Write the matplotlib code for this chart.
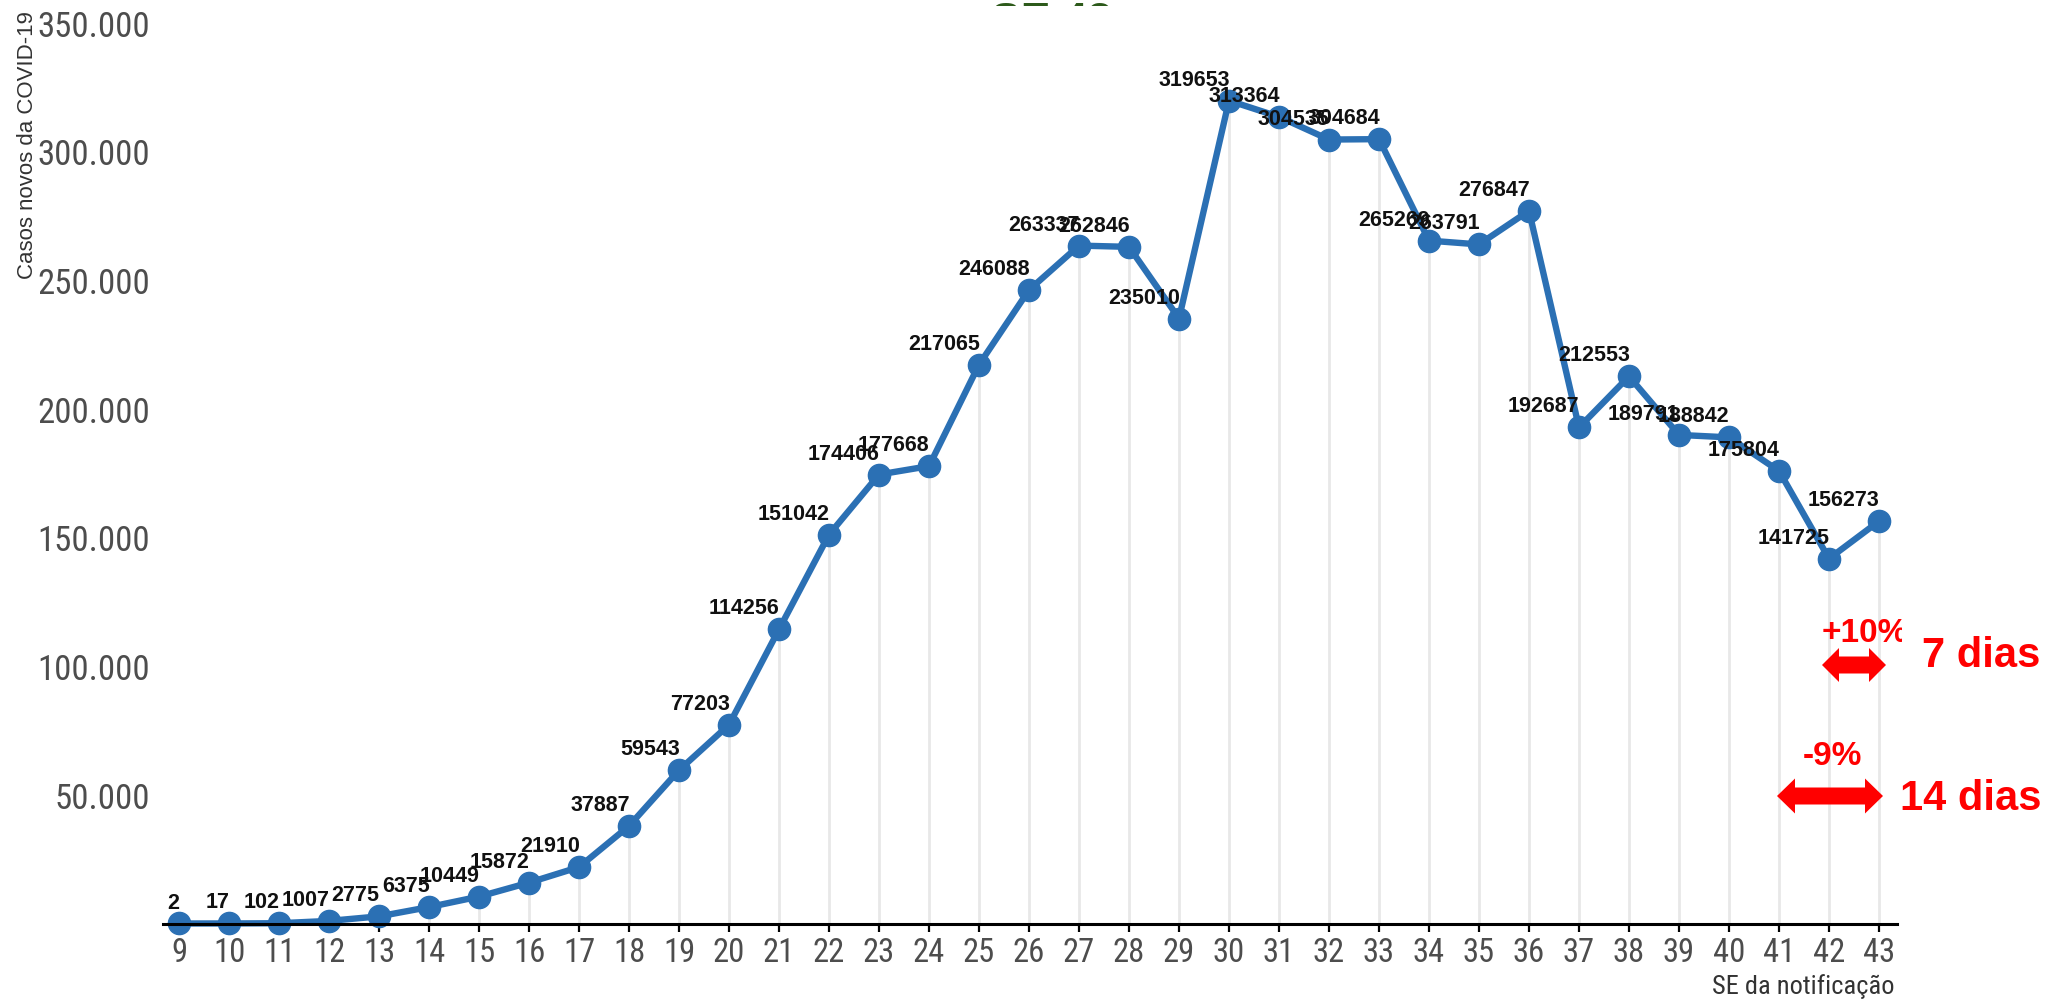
import matplotlib
matplotlib.use('Agg')
import matplotlib.pyplot as plt
from matplotlib import font_manager as fm
from matplotlib.patches import Polygon
from matplotlib.transforms import Bbox, TransformedBbox

W, H = 2058, 1003

# ---------------- data ----------------
weeks = list(range(9, 44))
cases = [2, 17, 102, 1007, 2775, 6375, 10449, 15872, 21910, 37887,
         59543, 77203, 114256, 151042, 174406, 177668, 217065, 246088,
         263337, 262846, 235010, 319653, 313364, 304535, 304684, 265269,
         263791, 276847, 192687, 212553, 189791, 188842, 175804, 141725,
         156273]
y_ticks = [50000, 100000, 150000, 200000, 250000, 300000, 350000]
y_tick_labels = ['50.000', '100.000', '150.000', '200.000', '250.000',
                 '300.000', '350.000']
x_tick_labels = [str(w) for w in weeks]
title_text = 'SE 43'
y_label = 'Casos novos da COVID-19'
x_label = 'SE da notificação'
ann_7_pct, ann_7_txt = '+10%', '7 dias'
ann_14_pct, ann_14_txt = '-9%', '14 dias'

available = {f.name for f in fm.fontManager.ttflist}
base = 'Liberation Sans' if 'Liberation Sans' in available else 'DejaVu Sans'


def find_narrow():
    cond = ('condensed', 'semi-condensed', 'extra-condensed', 'ultra-condensed')
    prefs = ['Liberation Sans Narrow', 'Arial Narrow', 'Roboto Condensed',
             'Open Sans Condensed', 'Noto Sans', 'Noto Sans Display', 'DejaVu Sans']
    entries = fm.fontManager.ttflist
    for p in prefs:
        for e in entries:
            nm = e.name
            is_cond = (str(e.stretch) in cond or 'Narrow' in nm or 'Condensed' in nm
                       or 'Condensed' in e.fname or 'Narrow' in e.fname)
            if (nm == p or nm.startswith(p)) and is_cond and e.style == 'normal' \
                    and str(e.weight) in ('400', 'normal', 'regular'):
                return e.fname
    return None


narrow_file = find_narrow()


def nfp(size):
    if narrow_file:
        return fm.FontProperties(fname=narrow_file, size=size)
    return fm.FontProperties(family=base, size=size * 0.93)


def fx(px):
    return px / W


def fy(py):
    return 1 - py / H


fig = plt.figure(figsize=(W / 100, H / 100), dpi=100)
fig.patch.set_facecolor('white')

# partially hidden title (behind the chart area)
fig.text(fx(1052), fy(2), title_text, ha='center', va='top', fontsize=32,
         fontweight='bold', color='#2d5a1b', family=base, zorder=-5)

ax = fig.add_axes([fx(163), fy(924.5), fx(1897) - fx(163), fy(7) - fy(924.5)])
ax.set_facecolor('white')
ax.set_xlim(8.68, 43.36)
ax.set_ylim(0, 356410)

ax.vlines(weeks, 0, cases, colors='#e8e8e8', lw=2, zorder=1)
ax.plot(weeks, cases, color='#2b70b4', lw=4.6, marker='o', ms=16,
        zorder=3, clip_on=False)

for w, c in zip(weeks, cases):
    ax.annotate(f'{c}', (w, c), xytext=(0.5, 11.5), textcoords='offset points',
                ha='right', va='baseline', fontsize=15.5, fontweight='bold',
                family=base, color='#111111', zorder=4, annotation_clip=False)

for s in ['top', 'right', 'left']:
    ax.spines[s].set_visible(False)
ax.spines['bottom'].set_color('black')
ax.spines['bottom'].set_linewidth(2.2)
ax.spines['bottom'].set_zorder(5)

ax.set_xticks(weeks)
ax.set_xticklabels(x_tick_labels, fontproperties=nfp(23.5), color='#4d4d4d')
ax.set_yticks(y_ticks)
ax.set_yticklabels(y_tick_labels, fontproperties=nfp(25), color='#4d4d4d')
ax.tick_params(axis='x', length=5.8, width=1.6, color='black', pad=3)
ax.tick_params(axis='y', length=0, pad=9.5)

fig.text(fx(28), fy(145), y_label, rotation=90, ha='center', va='center',
         fontsize=16, family=base, color='#333333')
fig.text(fx(1895), fy(987), x_label, ha='right', va='center',
         fontproperties=nfp(19), color='#333333')


def dbl_arrow(x0, x1, yc, total_h, shaft_h, head_l):
    pts = [(x0, yc), (x0 + head_l, yc - total_h / 2), (x0 + head_l, yc - shaft_h / 2),
           (x1 - head_l, yc - shaft_h / 2), (x1 - head_l, yc - total_h / 2), (x1, yc),
           (x1 - head_l, yc + total_h / 2), (x1 - head_l, yc + shaft_h / 2),
           (x0 + head_l, yc + shaft_h / 2), (x0 + head_l, yc + total_h / 2)]
    pts = [(fx(x), fy(y)) for x, y in pts]
    fig.patches.append(Polygon(pts, closed=True, transform=fig.transFigure,
                               facecolor='#ff0000', edgecolor='none', zorder=6))


red = '#ff0000'
t = fig.text(fx(1822), fy(642), ann_7_pct, ha='left', va='baseline', fontsize=24,
             fontweight='bold', color=red, family=base, zorder=6)
t.set_clip_box(TransformedBbox(Bbox([[0, 0], [fx(1902), 1]]), fig.transFigure))
t.set_clip_on(True)
dbl_arrow(1822, 1886, 666, 34, 17, 17)
fig.text(fx(1922), fy(667), ann_7_txt, ha='left', va='baseline', fontsize=30,
         fontweight='bold', color=red, family=base, zorder=6)

fig.text(fx(1803), fy(765), ann_14_pct, ha='left', va='baseline', fontsize=24,
         fontweight='bold', color=red, family=base, zorder=6)
dbl_arrow(1777, 1883, 797, 35, 17, 18)
fig.text(fx(1900), fy(810), ann_14_txt, ha='left', va='baseline', fontsize=30,
         fontweight='bold', color=red, family=base, zorder=6)

fig.savefig('out.png', dpi=100, facecolor='white')
